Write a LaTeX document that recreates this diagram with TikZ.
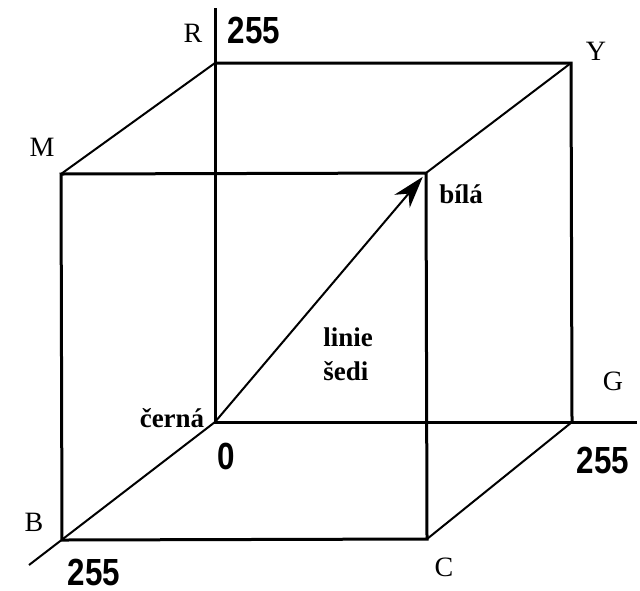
\documentclass[tikz,border=0pt]{standalone}
\usepackage{fontspec}
\setmainfont{Liberation Serif}
\newfontfamily\numfont{Liberation Sans}[FakeStretch=0.83]
\usetikzlibrary{arrows.meta}
\tikzset{
  edge/.style={line width=1.5pt, draw=black},
  diag/.style={line width=1pt, draw=black},
  vtx/.style={inner sep=0pt, font=\fontsize{14}{16}\selectfont},
  num/.style={inner sep=0pt, font=\numfont\bfseries\fontsize{18.9}{20}\selectfont},
  lbl/.style={inner sep=0pt, font=\bfseries\fontsize{13.5}{17}\selectfont, align=left},
  arr/.style={-{Stealth[length=16pt, width=10pt, inset=5pt]}, line width=1pt, shorten >=2.5pt},
}
\begin{document}
\begin{tikzpicture}[x=0.5pt, y=-0.5pt]
\useasboundingbox (0,0) rectangle (640,590);
% rohy krychle
\coordinate (O) at (215,422);
\coordinate (R) at (215,63);
\coordinate (Y) at (571,63);
\coordinate (G) at (572,422);
\coordinate (M) at (61,174);
\coordinate (W) at (426,173);
\coordinate (C) at (427,539);
\coordinate (B) at (62,540);
% konce os
\coordinate (Rend) at (215,8);
\coordinate (Gend) at (637,422);
\coordinate (Bend) at (29,565);
% osy
\draw[edge] (Rend) -- (O) -- (Gend);
\draw[diag] (O) -- (Bend);
% krychle
\draw[edge] (R) -- (Y) -- (G);
\draw[edge] (M) -- (W) -- (C) -- (B) -- cycle;
\draw[diag] (R) -- (M);
\draw[diag] (Y) -- (W);
\draw[diag] (G) -- (C);
% linie sedi
\draw[arr] (O) -- (W);
% popisky
\node[vtx] (lR) at (193,33) {R};
\node[vtx] (lM) at (42,147) {M};
\node[vtx] (lY) at (596,51) {Y};
\node[vtx] (lG) at (613,381) {G};
\node[vtx] (lB) at (34,522) {B};
\node[vtx] (lC) at (444,567) {C};
\node[num] (nR) at (254,30) {255};
\node[num] (nG) at (603,460) {255};
\node[num] (nB) at (94,572) {255};
\node[num] (nO) at (226,456) {0};
\node[lbl] (lW) at (461,194) {bílá};
\node[lbl] (lK) at (172,418) {černá};
\node[lbl, anchor=north west] (lS) at (323,327) {linie\\šedi};
\end{tikzpicture}
\end{document}
